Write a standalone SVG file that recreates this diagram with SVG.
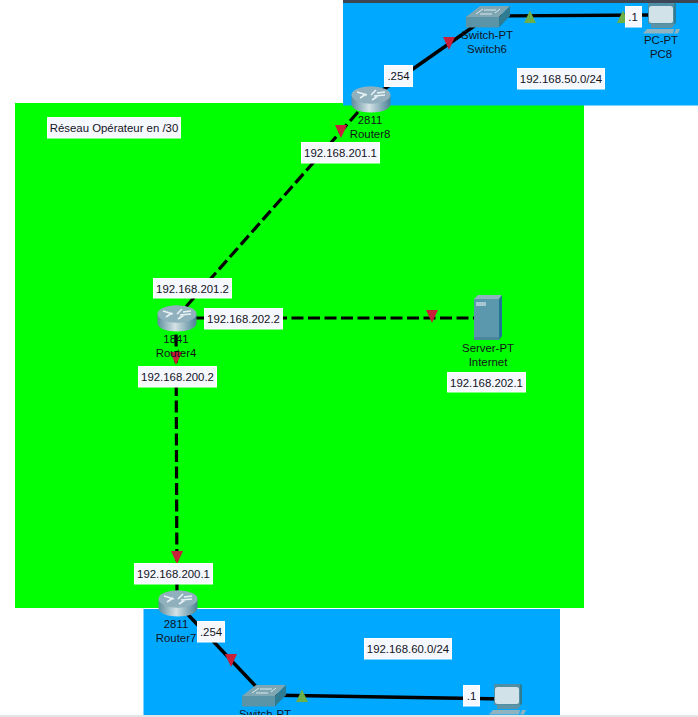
<svg xmlns="http://www.w3.org/2000/svg" xmlns:xlink="http://www.w3.org/1999/xlink" width="698" height="717" viewBox="0 0 698 717">
<style>
text{font-family:"Liberation Sans",Arial,sans-serif;font-size:11.4px;fill:#12141c;text-anchor:middle}
.box{fill:#f6f8ff;stroke:#fff;stroke-width:1}
.solid{fill:none;stroke:#000;stroke-width:3.4}
.dash{fill:none;stroke:#000;stroke-width:3.2;stroke-dasharray:12 4.500}
.red{fill:#c8203a}
.green{fill:#6cb04a}
</style>
<defs>
<linearGradient id="rb" x1="0" x2="1" y1="0" y2="0"><stop offset="0" stop-color="#5f8d9c"/><stop offset=".45" stop-color="#d4e2e6"/><stop offset="1" stop-color="#4b8296"/></linearGradient>
<symbol id="router" width="40" height="27" viewBox="0 0 40 27" overflow="visible">
<path d="M0.500 9V18C0.500 23 9 26.500 20 26.500S39.500 23 39.500 18V9Z" fill="url(#rb)"/>
<ellipse cx="20" cy="9" rx="19.500" ry="8.700" fill="#8fb0bc"/>
<path d="M6 6L16 9M9 12L15 8M25 4L20 9M23 10L34 9M26 7L34 6M21 14L27 10" stroke="#e8f2f4" stroke-width="1.600" fill="none"/>
</symbol>
<symbol id="switch" width="44" height="22" viewBox="0 0 44 22" overflow="visible">
<path d="M0 11L14 0H44L33 11Z" fill="#7fa6b3"/>
<path d="M0 11H33V21.500H0Z" fill="#5b93a7"/>
<path d="M33 11L44 0V10L33 21.500Z" fill="#2f7c92"/>
<path d="M10 8L17 3M18 4H30M14 8H26M29 7L34 3" stroke="#dbe8ec" stroke-width="1" fill="none"/>
</symbol>
<symbol id="pc" width="38" height="31" viewBox="0 0 38 31" overflow="visible">
<path d="M5 0H31V21H5Z" fill="#4f8ea3"/>
<path d="M31 0L33 1V20L31 21Z" fill="#2f7c92"/>
<rect x="6" y="3" width="24" height="17" rx="2.500" fill="#d2e2e9"/>
<path d="M8 21H32L29 25H8Z" fill="#5b93a7"/>
<path d="M4 26H31L30 30.500H0Z" fill="#8fb4c0"/>
<path d="M33 26H37L35 30.500H31Z" fill="#8fb4c0"/>
</symbol>
<symbol id="server" width="30" height="46" viewBox="0 0 30 46" overflow="visible">
<path d="M0 4L4 0H28L25 4Z" fill="#8fb4c0"/>
<path d="M0 4H25V45H0Z" fill="#5b98ae"/>
<path d="M25 4L28 0V41L25 45Z" fill="#1f7593"/>
<rect x="2" y="7" width="10" height="4" fill="#a9c7d2"/>
<rect x="0" y="42" width="25" height="3" fill="#4a879c"/>
</symbol>
<path id="td" d="M-6 -6H6L0 7Z"/>
<path id="tu" d="M-6 6H6L0 -6.500Z"/>
</defs>
<rect width="698" height="717" fill="#fff"/>
<rect x="15" y="103" width="569" height="505" fill="#00ff00"/>
<rect x="343" y="3" width="355" height="102.500" fill="#00a8ff"/>
<rect x="143.500" y="609" width="416.500" height="106" fill="#00a8ff"/>
<rect x="343" y="0" width="355" height="3" fill="#3c4654"/>
<g id="connectors">
<path class="solid" d="M487 16L650 15"/>
<path class="solid" d="M370 99L480 22"/>
<path class="dash" d="M358 112L176 318"/>
<path class="dash" d="M176 318H474"/>
<path class="dash" d="M176 318L177 603"/>
<path class="solid" d="M177 603L264 695"/>
<path class="solid" d="M264 695L505 699"/>
<use xlink:href="#tu" href="#tu" class="green" x="530" y="17"/>
<use xlink:href="#tu" href="#tu" class="green" x="623" y="17"/>
<use xlink:href="#td" href="#td" class="red" x="449" y="43"/>
<use xlink:href="#td" href="#td" class="red" x="341" y="131"/>
<use xlink:href="#td" href="#td" class="red" x="432" y="316"/>
<use xlink:href="#td" href="#td" class="red" x="176" y="358"/>
<use xlink:href="#td" href="#td" class="red" x="177" y="557"/>
<use xlink:href="#td" href="#td" class="red" x="231" y="660"/>
<use xlink:href="#tu" href="#tu" class="green" x="302" y="696"/>
</g>
<g id="router8"><use xlink:href="#router" href="#router" x="351" y="86"/><text x="370" y="124">2811</text><text x="370" y="138">Router8</text></g>
<g id="switch6"><use xlink:href="#switch" href="#switch" x="466" y="6"/><text x="487" y="39">Switch-PT</text><text x="487" y="53">Switch6</text></g>
<g id="pc8"><use xlink:href="#pc" href="#pc" x="643" y="3"/><text x="661" y="44">PC-PT</text><text x="661" y="58">PC8</text></g>
<g id="router4"><use xlink:href="#router" href="#router" x="157" y="305"/><text x="176" y="343">1841</text><text x="176" y="357">Router4</text></g>
<g id="internet"><use xlink:href="#server" href="#server" x="474" y="295"/><text x="488" y="352">Server-PT</text><text x="488" y="366">Internet</text></g>
<g id="router7"><use xlink:href="#router" href="#router" x="158" y="590"/><text x="176" y="628">2811</text><text x="176" y="642">Router7</text></g>
<g id="switch-bottom"><use xlink:href="#switch" href="#switch" x="242" y="685"/><text x="265" y="718">Switch-PT</text></g>
<g id="pc-bottom"><use xlink:href="#pc" href="#pc" x="489" y="684"/></g>
<g id="labels">
<g><rect class="box" x="47.500" y="117.500" width="133" height="20.500"/><text x="114" y="132">Réseau Opérateur en /30</text></g>
<g><rect class="box" x="301.500" y="142.500" width="78" height="20.500"/><text x="340.500" y="157">192.168.201.1</text></g>
<g><rect class="box" x="153.500" y="278.500" width="78" height="19.500"/><text x="192.500" y="292.500">192.168.201.2</text></g>
<g><rect class="box" x="204.500" y="308.500" width="78" height="20.500"/><text x="243.500" y="323">192.168.202.2</text></g>
<g><rect class="box" x="138.500" y="366.500" width="78" height="20.500"/><text x="177.500" y="380.500">192.168.200.2</text></g>
<g><rect class="box" x="134.500" y="563.500" width="78" height="20.500"/><text x="173.500" y="578">192.168.200.1</text></g>
<g><rect class="box" x="197.500" y="621.500" width="27" height="20.500"/><text x="211" y="636">.254</text></g>
<g><rect class="box" x="384.500" y="65.500" width="28" height="21"/><text x="398.500" y="80">.254</text></g>
<g><rect class="box" x="625.500" y="6.500" width="16" height="20.500"/><text x="633" y="21">.1</text></g>
<g><rect class="box" x="463.500" y="685.500" width="16" height="20.500"/><text x="471.500" y="700">.1</text></g>
<g><rect class="box" x="517.500" y="68.500" width="87" height="20.500"/><text x="561" y="83">192.168.50.0/24</text></g>
<g><rect class="box" x="364.500" y="638.500" width="87" height="20.500"/><text x="408" y="653">192.168.60.0/24</text></g>
<g><rect class="box" x="447.500" y="372.500" width="78" height="19.500"/><text x="486.500" y="387">192.168.202.1</text></g>
</g>
<rect x="0" y="715" width="698" height="2" fill="#e2e4e6"/>
</svg>
